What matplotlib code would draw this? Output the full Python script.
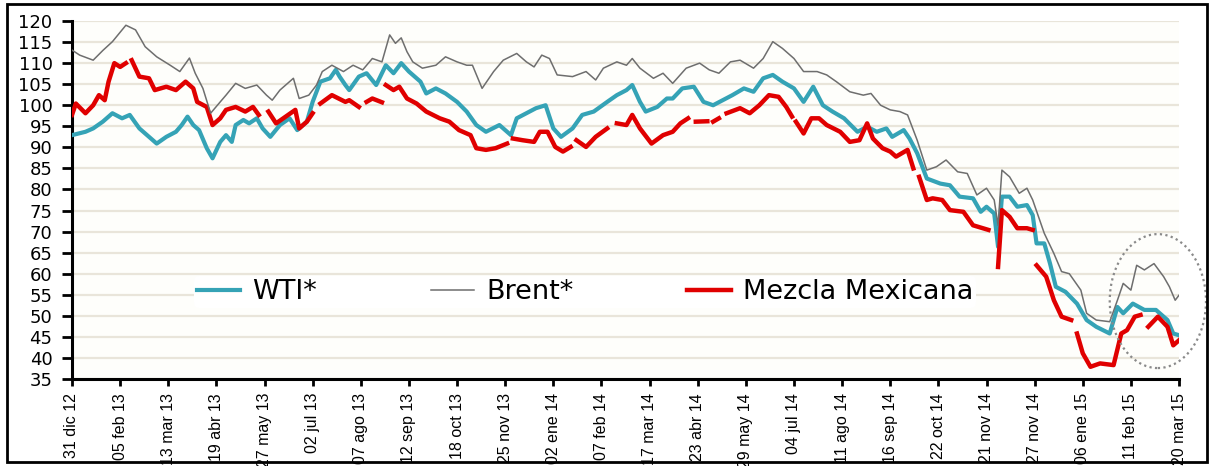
import numpy as np
import matplotlib
matplotlib.use('Agg')
import matplotlib.pyplot as plt
from matplotlib.patches import Ellipse, Rectangle

nan = np.nan

# eje x: dia habil (0 = 31 dic 12), una etiqueta cada 25 dias
tick_labels = ['31 dic 12', '05 feb 13', '13 mar 13', '19 abr 13', '27 may 13', '02 jul 13',
               '07 ago 13', '12 sep 13', '18 oct 13', '25 nov 13', '02 ene 14', '07 feb 14',
               '17 mar 14', '23 abr 14', '29 may 14', '04 jul 14', '11 ago 14', '16 sep 14',
               '22 oct 14', '21 nov 14', '27 nov 14', '06 ene 15', '11 feb 15', '20 mar 15']
tick_step = 25

wti_day = [0, 7, 11, 16, 21, 26, 30, 35, 38, 44, 49, 54, 57, 60, 63, 66, 70, 73, 77, 80,
           83, 85, 89, 92, 96, 99, 103, 108, 113, 117, 122, 125, 129, 134, 137, 139, 142, 144, 149, 153,
           158, 163, 167, 171, 175, 181, 184, 189, 194, 200, 205, 210, 215, 222, 228, 231, 236, 241, 246, 250,
           254, 260, 265, 271, 278, 283, 288, 291, 295, 298, 304, 309, 312, 317, 323, 328, 333, 338, 343, 349,
           354, 359, 364, 369, 375, 380, 385, 390, 395, 401, 408, 413, 418, 423, 426, 432, 435, 439, 444, 451,
           456, 461, 468, 472, 475, 479, 481, 483, 487, 491, 496, 499, 501, 505, 508, 511, 516, 522, 527, 532,
           539, 543, 546, 551, 557, 563, 569, 572, 575]
wti = [92.9, 93.7, 94.5, 96.1, 98.1, 96.9, 97.7, 94.5, 93.3, 90.9, 92.5, 93.7, 95.3, 97.3, 95.3, 94.1, 89.8, 87.4, 91.3, 92.9,
       91.3, 95.3, 96.5, 95.7, 96.9, 94.5, 92.5, 95.3, 96.9, 94.1, 96.1, 100.8, 105.6, 106.4, 108.4, 106.8, 104.8, 103.6, 106.8, 107.6,
       104.8, 109.5, 107.6, 110.0, 108.0, 105.6, 102.8, 104.0, 102.8, 100.8, 98.5, 95.3, 93.7, 95.3, 92.9, 96.9, 98.1, 99.3, 100.0, 94.5,
       92.5, 94.5, 97.7, 98.5, 100.8, 102.4, 103.6, 104.8, 100.8, 98.5, 99.6, 101.6, 101.6, 104.0, 104.4, 100.8, 100.0, 101.2, 102.4, 104.0,
       103.2, 106.4, 107.2, 105.6, 104.0, 100.8, 104.4, 100.0, 98.5, 96.9, 93.7, 94.9, 93.7, 94.5, 92.5, 94.1, 92.1, 88.6, 82.6, 81.4,
       81.0, 78.3, 77.9, 74.7, 75.9, 74.3, 66.4, 78.3, 78.3, 75.9, 76.3, 73.9, 67.2, 67.2, 62.4, 56.9, 55.7, 52.9, 49.0, 47.4,
       45.8, 52.1, 50.6, 52.9, 51.4, 51.4, 49.0, 45.8, 45.4]

brent_day = [0, 4, 11, 16, 21, 28, 33, 38, 44, 51, 56, 61, 64, 68, 72, 77, 80, 85, 90, 96,
             101, 104, 108, 115, 118, 123, 127, 130, 135, 141, 146, 151, 156, 161, 165, 168, 171, 174, 177, 182,
             189, 194, 200, 205, 208, 213, 219, 224, 231, 236, 240, 244, 248, 252, 260, 267, 272, 276, 283, 288,
             291, 295, 302, 307, 312, 319, 326, 331, 336, 342, 347, 354, 359, 364, 369, 375, 380, 387, 392, 397,
             404, 411, 415, 420, 425, 430, 434, 439, 444, 449, 454, 460, 465, 470, 475, 479, 481, 483, 487, 492,
             496, 499, 505, 510, 514, 518, 524, 527, 532, 539, 543, 546, 550, 553, 557, 562, 567, 570, 573, 575]
brent = [113.1, 111.9, 110.7, 113.0, 115.1, 119.0, 117.9, 113.9, 111.5, 109.5, 108.0, 111.2, 107.6, 104.0, 98.1, 100.8, 102.4, 105.2, 104.0, 104.8,
         102.4, 101.2, 103.6, 106.4, 101.6, 102.4, 104.8, 108.0, 109.5, 108.0, 109.5, 108.4, 111.1, 110.3, 116.7, 114.7, 116.0, 112.7, 110.3, 108.8,
         109.5, 111.5, 110.3, 109.5, 109.5, 104.0, 108.0, 110.7, 112.3, 110.3, 109.1, 111.9, 111.1, 107.2, 106.8, 108.0, 106.0, 108.8, 110.3, 109.5,
         111.1, 108.8, 106.4, 107.6, 105.2, 108.8, 110.0, 108.4, 107.6, 110.3, 110.7, 108.8, 111.1, 115.1, 113.5, 111.1, 108.0, 108.0, 107.2, 105.6,
         103.2, 102.4, 102.8, 100.0, 98.9, 98.5, 97.7, 91.7, 84.6, 85.4, 87.0, 84.2, 83.8, 78.7, 80.3, 77.5, 71.5, 84.6, 83.0, 79.1,
         80.3, 77.5, 69.6, 64.8, 60.5, 60.0, 56.1, 50.6, 49.0, 48.6, 53.7, 57.7, 56.1, 62.0, 60.9, 62.4, 59.3, 56.9, 53.7, 54.9]

mme_day = [0, 2, 7, 11, 14, 17, 19, 22, 25, 28, 29, 31, 35, 40, 43, 49, 54, 59, 63, 65,
           70, 73, 77, 80, 85, 90, 94, 97, 99, 102, 106, 111, 116, 118, 122, 125, 126, 129, 135, 142,
           144, 149, 151, 153, 156, 161, 162, 163, 167, 170, 174, 179, 184, 191, 196, 201, 207, 210, 215, 220,
           226, 227, 229, 234, 240, 243, 247, 251, 255, 259, 260, 262, 267, 272, 278, 280, 283, 288, 291, 295,
           301, 307, 312, 316, 320, 322, 324, 330, 332, 333, 336, 338, 340, 347, 352, 357, 362, 367, 371, 374,
           375, 376, 380, 384, 388, 392, 399, 404, 409, 413, 416, 421, 425, 428, 434, 437, 438, 440, 444, 447,
           452, 456, 463, 468, 473, 476, 478, 481, 483, 487, 491, 496, 499, 500, 501, 506, 510, 514, 519, 521,
           522, 525, 529, 534, 541, 545, 548, 552, 555, 556, 559, 564, 569, 572, 575]
mme = [97.7, 100.4, 98.1, 100.0, 102.4, 101.2, 105.6, 110.0, 109.1, 110.0, nan, 110.7, 106.8, 106.4, 103.6, 104.4, 103.6, 105.6, 104.0, 100.8,
       99.6, 95.3, 96.9, 98.9, 99.6, 98.5, 99.6, 97.7, nan, 98.5, 95.7, 97.3, 98.9, 94.5, 96.1, 98.1, nan, 100.4, 102.4, 100.8,
       101.2, 99.6, nan, 100.8, 101.6, 100.7, nan, 104.8, 103.6, 104.4, 101.6, 100.4, 98.5, 96.9, 96.1, 94.1, 92.9, 89.8, 89.4, 89.8,
       90.9, nan, 92.1, 91.7, 91.3, 93.7, 93.7, 90.1, 89.0, 90.1, nan, 91.7, 90.1, 92.5, 94.5, nan, 95.7, 95.3, 97.7, 94.5,
       90.9, 92.9, 93.7, 95.7, 96.9, nan, 96.1, 96.2, nan, 96.1, 96.9, nan, 98.1, 99.3, 98.1, 100.0, 102.4, 102.0, 99.6, 97.3,
       nan, 96.1, 93.3, 96.9, 96.9, 95.3, 93.7, 91.3, 91.7, 95.7, 92.1, 89.8, 89.0, 87.8, 89.4, 85.0, nan, 83.0, 77.5, 77.9,
       77.5, 75.1, 74.7, 71.5, 70.8, 70.4, nan, 61.6, 75.1, 73.5, 70.8, 70.8, 70.4, nan, 62.0, 59.3, 53.7, 49.8, 49.0, nan,
       45.8, 41.1, 37.9, 38.7, 38.3, 45.8, 46.6, 49.8, 50.2, nan, 47.4, 49.8, 47.4, 43.0, 44.2]

fig = plt.figure(figsize=(12.12, 4.66), dpi=100)
ax = fig.add_axes([0.0594, 0.1867, 0.9134, 0.7682])
ax.set_facecolor('#fefefb')

ax.plot(wti_day, wti, color='#35a3b6', lw=3.0, label='WTI*', zorder=3)
ax.plot(brent_day, brent, color='#6e6e6e', lw=1.1, label='Brent*', zorder=5)
ax.plot(mme_day, mme, color='#e00000', lw=3.2, label='Mezcla Mexicana', zorder=4)

# elipse punteada sobre el ultimo tramo
ax.add_patch(Ellipse((564, 53.5), 50, 31.8, fill=False, ls=(0, (1, 1.5)), lw=1.6,
                     edgecolor='#8a8a8a', clip_on=False, zorder=6))

ax.set_ylim(35, 120)
ax.set_yticks(range(35, 121, 5))
ax.set_xlim(0, tick_step * (len(tick_labels) - 1))
ax.set_xticks([i * tick_step for i in range(len(tick_labels))])
ax.set_xticklabels(tick_labels, rotation=90)
for lab in ax.get_xticklabels():
    lab.set_fontsize(11.5)
    lab.set_fontfamily(['Liberation Sans', 'DejaVu Sans'])
for lab in ax.get_yticklabels():
    lab.set_fontsize(13)
    lab.set_fontfamily(['DejaVu Sans'])

ax.grid(axis='y', color='#e9e5da', lw=1.6)
ax.set_axisbelow(True)
for s in ['top', 'right']:
    ax.spines[s].set_visible(False)
for s in ['left', 'bottom']:
    ax.spines[s].set_linewidth(2.2)
    ax.spines[s].set_color('black')
ax.tick_params(axis='y', direction='out', length=7, width=2, pad=7)
ax.tick_params(axis='x', direction='out', length=5, width=2, pad=5)

leg = ax.legend(loc='center', bbox_to_anchor=(0.4634, 0.243), ncol=3, frameon=True,
                handlelength=1.6, handletextpad=0.45, columnspacing=4.2,
                borderpad=0.1, prop={'family': 'DejaVu Sans', 'size': 19.5})
leg.get_frame().set_facecolor('white')
leg.get_frame().set_edgecolor('none')
leg.get_frame().set_alpha(1)

# marco de la figura
fig.patches.append(Rectangle((0.006, 0.008), 0.99, 0.984, transform=fig.transFigure,
                             fill=False, edgecolor='black', lw=2))

fig.savefig('out.png', dpi=100)
